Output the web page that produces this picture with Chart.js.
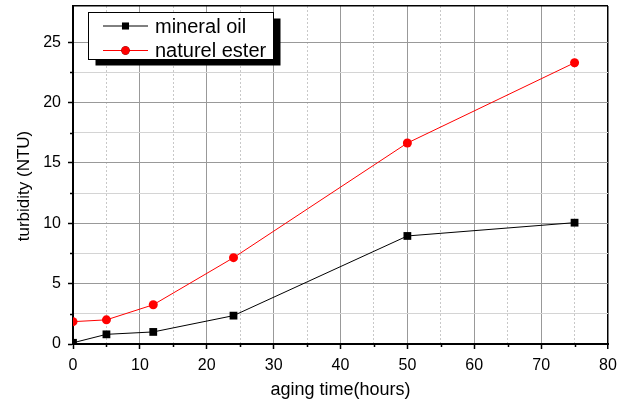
<!DOCTYPE html>
<html>
<head>
<meta charset="utf-8">
<script src="https://cdn.jsdelivr.net/npm/chart.js@4/dist/chart.umd.min.js"></script>
<style>
  html, body { margin: 0; padding: 0; background: #fff; }
  canvas { display: block; }
</style>
</head>
<body>
<canvas id="turbidityChart" width="626" height="402"></canvas>
<script>
// aging time (hours) and measured turbidity (NTU)
const agingHours = [0, 5, 12, 24, 50, 75];
const mineralOil = [0.1, 0.8, 1.0, 2.35, 8.95, 10.05];
const naturelEster = [1.85, 2.0, 3.25, 7.15, 16.65, 23.3];
const seriesNames = ['mineral oil', 'naturel ester'];
const xLimits = [0, 80];
const yLimits = [0, 28];
const xTitle = 'aging time(hours)';
const yTitle = 'turbidity (NTU)';

const FONT = "'Liberation Sans', Arial, sans-serif";

function toPoints(xs, ys) {
    return xs.map((x, i) => ({ x: x, y: ys[i] }));
}

// minor ticks, legend box with shadow and axis titles
const decorations = {
    id: 'decorations',
    afterDraw(chart) {
        const ctx = chart.ctx;
        const xs = chart.scales.x, ys = chart.scales.y;
        const area = chart.chartArea;
        ctx.save();

        // short minor ticks
        ctx.strokeStyle = '#000';
        ctx.lineWidth = 1.5;
        ctx.beginPath();
        xs.ticks.forEach(t => {
            if (t.value % 10 !== 0) {
                const px = Math.round(xs.getPixelForValue(t.value)) + 0.5;
                ctx.moveTo(px, area.bottom);
                ctx.lineTo(px, area.bottom + 3);
            }
        });
        ys.ticks.forEach(t => {
            if (t.value % 5 !== 0 && t.value < yLimits[1]) {
                const py = Math.round(ys.getPixelForValue(t.value)) + 0.5;
                ctx.moveTo(area.left, py);
                ctx.lineTo(area.left - 3, py);
            }
        });
        ctx.stroke();

        // axis titles
        ctx.fillStyle = '#000';
        ctx.font = '18px ' + FONT;
        ctx.textAlign = 'center';
        ctx.textBaseline = 'middle';
        ctx.fillText(xTitle, (area.left + area.right) / 2, 390);
        ctx.save();
        ctx.translate(24, 186);
        ctx.rotate(-Math.PI / 2);
        ctx.font = '17px ' + FONT;
        ctx.fillText(yTitle, 0, 0);
        ctx.restore();

        // legend
        const box = { x: 88.5, y: 12.5, w: 185, h: 47 };
        ctx.fillStyle = '#000';
        ctx.fillRect(box.x + 7, box.y + 6, box.w, box.h);
        ctx.fillStyle = '#fff';
        ctx.fillRect(box.x, box.y, box.w, box.h);
        ctx.strokeStyle = '#000';
        ctx.lineWidth = 1;
        ctx.strokeRect(box.x, box.y, box.w, box.h);

        ctx.font = '20px ' + FONT;
        ctx.textAlign = 'left';
        chart.data.datasets.forEach((ds, i) => {
            const cy = 26 + i * 24.5;
            ctx.strokeStyle = ds.borderColor;
            ctx.lineWidth = 1;
            ctx.beginPath();
            ctx.moveTo(103, cy);
            ctx.lineTo(148, cy);
            ctx.stroke();
            Chart.helpers.drawPoint(ctx, {
                pointStyle: ds.pointStyle,
                radius: ds.pointStyle === 'rect' ? 5 : 4.2,
                borderWidth: 0,
                rotation: 0
            }, 125.5, cy);
            ctx.fillStyle = ds.pointBackgroundColor;
            ctx.fill();
            ctx.fillStyle = '#000';
            ctx.fillText(ds.label, 155, cy + 1);
        });
        ctx.restore();
    }
};

new Chart(document.getElementById('turbidityChart'), {
    type: 'line',
    data: {
        datasets: [{
            label: seriesNames[0],
            data: toPoints(agingHours, mineralOil),
            borderColor: '#000',
            borderWidth: 1,
            pointStyle: 'rect',
            pointRadius: 5.5,
            pointBackgroundColor: '#000',
            pointBorderColor: '#000',
            pointBorderWidth: 0
        }, {
            label: seriesNames[1],
            data: toPoints(agingHours, naturelEster),
            borderColor: '#ff0000',
            borderWidth: 1,
            pointStyle: 'circle',
            pointRadius: 4.5,
            pointBackgroundColor: '#ff0000',
            pointBorderColor: '#ff0000',
            pointBorderWidth: 0
        }]
    },
    options: {
        responsive: false,
        animation: false,
        layout: { padding: { top: 6, right: 18, left: 0, bottom: 0 } },
        plugins: {
            legend: { display: false },
            tooltip: { enabled: false }
        },
        scales: {
            x: {
                type: 'linear',
                min: xLimits[0],
                max: xLimits[1],
                afterFit(scale) {
                    scale.height = 58;
                    scale.paddingLeft = 0;
                    scale.paddingRight = 0;
                },
                ticks: {
                    stepSize: 5,
                    autoSkip: false,
                    maxRotation: 0,
                    padding: 7,
                    color: '#000',
                    font: { family: FONT, size: 16 },
                    callback: v => (v % 10 === 0 ? v : '')
                },
                grid: {
                    color: c => {
                        const v = c.tick ? c.tick.value : 0;
                        if (v === xLimits[1]) return '#000';
                        return v % 10 === 0 ? '#999' : '#c8c8c8';
                    },
                    lineWidth: c => (c.tick && c.tick.value === xLimits[1] ? 1.5 : 1),
                    tickLength: 5,
                    tickWidth: 1.5,
                    tickColor: c => (c.tick && c.tick.value % 10 === 0 ? '#000' : 'rgba(0,0,0,0)')
                },
                border: {
                    color: '#000',
                    width: 2,
                    dash: c => (c.tick && c.tick.value % 10 !== 0 ? [2, 2] : [])
                }
            },
            y: {
                type: 'linear',
                min: yLimits[0],
                max: yLimits[1],
                afterFit(scale) {
                    scale.width = 73;
                    scale.paddingTop = 0;
                    scale.paddingBottom = 0;
                },
                ticks: {
                    stepSize: 2.5,
                    autoSkip: false,
                    padding: 7,
                    color: '#000',
                    font: { family: FONT, size: 16 },
                    callback: v => (v % 5 === 0 ? v : '')
                },
                grid: {
                    color: c => {
                        const v = c.tick ? c.tick.value : 0;
                        if (v === yLimits[1]) return '#000';
                        return v % 5 === 0 ? '#999' : '#d4d4d4';
                    },
                    lineWidth: c => (c.tick && c.tick.value === yLimits[1] ? 1.5 : 1),
                    tickLength: 5,
                    tickWidth: 1.5,
                    tickColor: c => (c.tick && c.tick.value % 5 === 0 && c.tick.value < yLimits[1] ? '#000' : 'rgba(0,0,0,0)')
                },
                border: { color: '#000', width: 2 }
            }
        }
    },
    plugins: [decorations]
});
</script>
</body>
</html>
